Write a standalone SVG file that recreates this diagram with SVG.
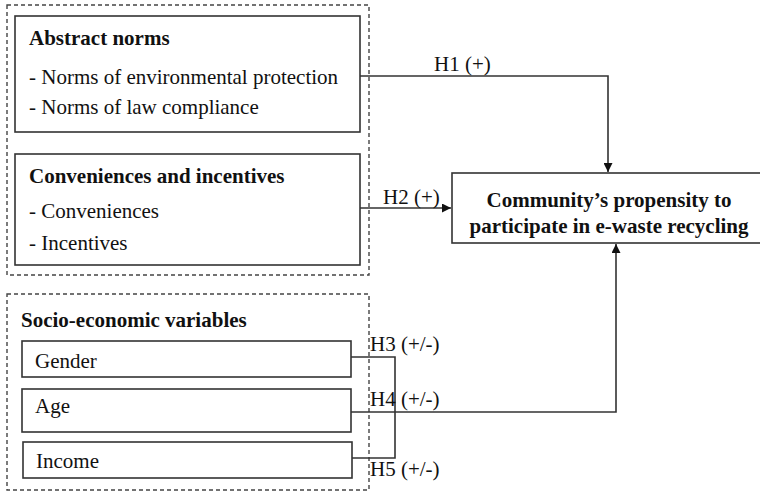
<svg xmlns="http://www.w3.org/2000/svg" width="760" height="494" viewBox="0 0 760 494">
<style>
text{font-family:'Liberation Serif','Times New Roman',serif;font-size:21px;fill:#111}
.b{font-weight:bold}
.box{fill:#fff;stroke:#333;stroke-width:1.6}
.dash{fill:none;stroke:#444;stroke-width:1.4;stroke-dasharray:4 3}
.ln{fill:none;stroke:#333;stroke-width:1.6}
.c{text-anchor:middle}
</style>
<defs>
<marker id="ah" viewBox="0 0 10 10" refX="10" refY="5" markerWidth="9" markerHeight="9" markerUnits="userSpaceOnUse" orient="auto">
<path d="M0,0 L10,5 L0,10 z" fill="#111"/>
</marker>
</defs>
<rect class="dash" x="7" y="5" width="362" height="270"/>
<rect class="dash" x="7" y="294" width="362" height="196"/>
<g id="abstract-norms">
<rect class="box" x="15" y="16" width="345" height="116"/>
<text class="b" x="29" y="45">Abstract norms</text>
<text x="29" y="84">- Norms of environmental protection</text>
<text x="29" y="114">- Norms of law compliance</text>
</g>
<g id="conveniences">
<rect class="box" x="15" y="154" width="345" height="111"/>
<text class="b" x="29" y="183">Conveniences and incentives</text>
<text x="29" y="218">- Conveniences</text>
<text x="29" y="250">- Incentives</text>
</g>
<g id="socio">
<text class="b" x="21" y="327">Socio-economic variables</text>
</g>
<g id="gender">
<rect class="box" x="22" y="341" width="329" height="36"/>
<text x="35" y="368">Gender</text>
</g>
<g id="age">
<rect class="box" x="22" y="389" width="329" height="43"/>
<text x="35" y="413">Age</text>
</g>
<g id="income">
<rect class="box" x="23" y="442" width="329" height="36"/>
<text x="36" y="468">Income</text>
</g>
<g id="outcome">
<rect class="box" x="452" y="173" width="320" height="70"/>
<text class="b c" x="609" y="207" font-size="21.5">Community’s propensity to</text>
<text class="b c" x="609" y="233" font-size="21.5">participate in e-waste recycling</text>
</g>
<g id="connectors">
<path class="ln" d="M360,76 H608 V172" marker-end="url(#ah)"/>
<path class="ln" d="M360,208 H451" marker-end="url(#ah)"/>
<path class="ln" d="M351,357 H395 V458 H352"/>
<path class="ln" d="M351,412 H616 V244" marker-end="url(#ah)"/>
<text x="434" y="71">H1 (+)</text>
<text x="383" y="204">H2 (+)</text>
<text x="370" y="351">H3 (+/-)</text>
<text x="370" y="406">H4 (+/-)</text>
<text x="370" y="476">H5 (+/-)</text>
</g>
</svg>
